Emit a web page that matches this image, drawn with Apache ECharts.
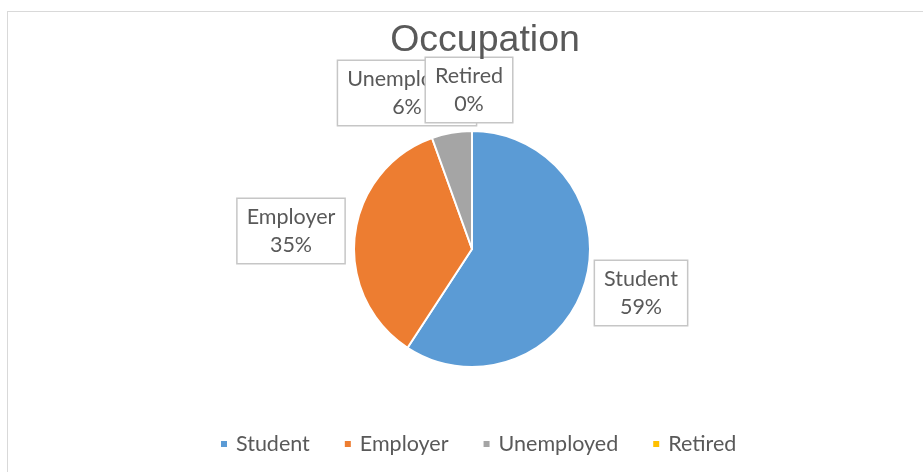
<!DOCTYPE html>
<html>
<head>
<meta charset="utf-8">
<script src="https://cdn.jsdelivr.net/npm/echarts@6/dist/echarts.min.js"></script>
<style>
  html, body { margin: 0; padding: 0; background: #fff; }
  #frame {
    position: absolute; left: 7px; top: 11px; width: 940px; height: 480px;
    border: 1px solid #d9d9d9; box-sizing: border-box;
  }
  #chart { position: absolute; left: 0; top: 0; width: 923px; height: 472px; }
</style>
</head>
<body>
<div id="frame"></div>
<div id="chart"></div>
<script>
// occupation share
var categories = ["Student", "Employer", "Unemployed", "Retired"];
var values = [59.2, 35.3, 5.5, 0];
var colors = ["#5b9bd5", "#ed7d31", "#a5a5a5", "#ffc000"];

// where Excel put the data label boxes (centre, px)
var labelPos = [[641, 293], [291, 231], [407, 93], [469, 90]];

var chart = echarts.init(document.getElementById("chart"));

var data = categories.map(function (name, i) {
  return { name: name, value: values[i], itemStyle: { color: colors[i] } };
});

var option = {
  animation: false,
  title: {
    text: "Occupation",
    left: 480,
    top: 17,
    textAlign: "center",
    textStyle: {
      fontFamily: "Liberation Sans",
      fontSize: 37.5,
      fontWeight: "normal",
      color: "#595959"
    }
  },
  legend: {
    left: 214,
    top: 428,
    icon: "rect",
    itemWidth: 8,
    itemHeight: 8,
    itemGap: 33,
    textStyle: { fontFamily: "Lato", fontSize: 21.5, color: "#595959", padding: [0, 0, 0, 3] },
    data: categories
  },
  series: [
    {
      name: "Occupation",
      type: "pie",
      center: [472, 249],
      radius: 118,
      startAngle: 90,
      clockwise: true,
      avoidLabelOverlap: false,
      itemStyle: { borderColor: "#fff", borderWidth: 2 },
      labelLine: { show: false },
      label: {
        show: true,
        position: "outside",
        formatter: function (p) {
          return p.name + "\n" + Math.round(p.percent) + "%";
        },
        fontFamily: "Lato",
        fontSize: 21.5,
        lineHeight: 28,
        color: "#595959",
        align: "center",
        backgroundColor: "#fff",
        borderColor: "#c6c6c6",
        borderWidth: 1.5,
        padding: [4, 9, 4, 9]
      },
      labelLayout: function (p) {
        var pos = labelPos[p.dataIndex];
        return { x: pos[0], y: pos[1], align: "center", verticalAlign: "middle" };
      },
      data: data
    }
  ]
};

chart.setOption(option);
</script>
</body>
</html>
